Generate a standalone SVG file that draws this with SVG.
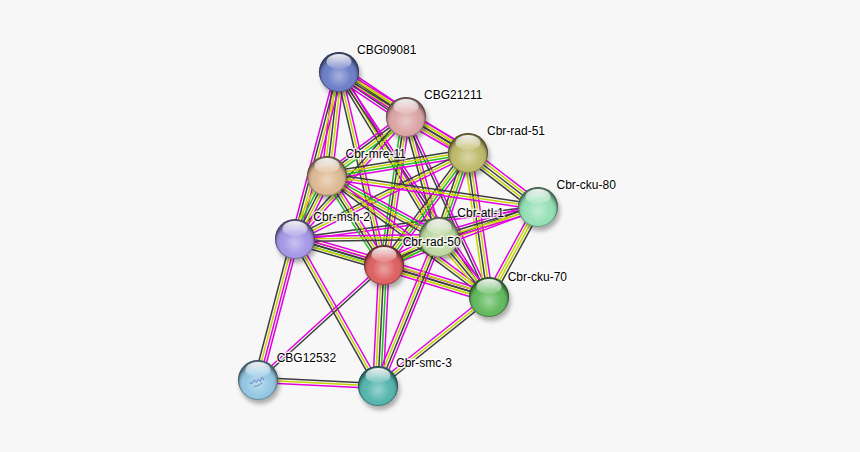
<svg xmlns="http://www.w3.org/2000/svg" xmlns:xlink="http://www.w3.org/1999/xlink" width="860" height="452" viewBox="0 0 860 452">
<style>
.e path{fill:none;stroke-width:1.5}
.m{stroke:#e000e0}
.y{stroke:#c4d400}
.k{stroke:#3d3d3d}
.g{stroke:#1fbf1f}
.lbl{font-family:"Liberation Sans",Arial,sans-serif;font-size:12px;fill:#000;stroke:#fff;stroke-width:3;stroke-opacity:.75;paint-order:stroke;stroke-linejoin:round}
.rim{fill:none;stroke:#000;stroke-opacity:.28;stroke-width:1}
</style>
<defs>
<filter id="blur" x="-50%" y="-50%" width="200%" height="200%"><feGaussianBlur stdDeviation="2"/></filter>
<radialGradient id="shade" cx="50%" cy="60%" r="52%">
<stop offset="0" stop-color="#fff" stop-opacity=".4"/>
<stop offset=".6" stop-color="#fff" stop-opacity="0"/>
<stop offset=".85" stop-color="#000" stop-opacity=".1"/>
<stop offset="1" stop-color="#000" stop-opacity=".45"/>
</radialGradient>
<linearGradient id="hl" x1="0" y1="0" x2="0" y2="1">
<stop offset="0" stop-color="#fff" stop-opacity=".95"/>
<stop offset="1" stop-color="#fff" stop-opacity=".12"/>
</linearGradient>
<circle id="shadow" cx="2" cy="4" r="20" fill="#000" fill-opacity=".3" filter="url(#blur)"/>
<g id="gloss">
<circle r="20" fill="url(#shade)"/>
<circle r="19.5" class="rim"/>
<ellipse cy="-10.5" rx="12.5" ry="7.5" fill="url(#hl)"/>
</g>
</defs>
<rect width="860" height="452" fill="#f7f7f7"/>
<g id="edges" class="e">
<g transform="matrix(.830 .558 -.558 .830 339 72)"><path class="m" d="M0-6.5h80.7"/><path class="y" d="M0-3.9h80.7"/><path class="k" d="M0-1.3h80.7"/><path class="y" d="M0 1.3h80.7"/><path class="k" d="M0 3.9h80.7"/><path class="m" d="M0 6.5h80.7"/></g>
<g transform="matrix(.847 .532 -.532 .847 339 72)"><path class="m" d="M0-3.9h152.3"/><path class="y" d="M0-1.3h152.3"/><path class="k" d="M0 1.3h152.3"/><path class="m" d="M0 3.9h152.3"/></g>
<g transform="matrix(-.115 .993 -.993 -.115 339 72)"><path class="m" d="M0-5.2h104.7"/><path class="y" d="M0-2.6h104.7"/><path class="k" d="M0 0h104.7"/><path class="y" d="M0 2.6h104.7"/><path class="m" d="M0 5.2h104.7"/></g>
<g transform="matrix(-.255 .967 -.967 -.255 339 72)"><path class="m" d="M0-3.9h172.7"/><path class="y" d="M0-1.3h172.7"/><path class="k" d="M0 1.3h172.7"/><path class="m" d="M0 3.9h172.7"/></g>
<g transform="matrix(.227 .974 -.974 .227 339 72)"><path class="m" d="M0-2.6h198.2"/><path class="y" d="M0 0h198.2"/><path class="k" d="M0 2.6h198.2"/></g>
<g transform="matrix(.518 .855 -.855 .518 339 72)"><path class="m" d="M0-2.6h192.9"/><path class="y" d="M0 0h192.9"/><path class="k" d="M0 2.6h192.9"/></g>
<g transform="matrix(.555 .832 -.832 .555 339 72)"><path class="m" d="M0-1.3h270.4"/><path class="k" d="M0 1.3h270.4"/></g>
<g transform="matrix(.865 .502 -.502 .865 406 117)"><path class="m" d="M0-5.2h71.7"/><path class="y" d="M0-2.6h71.7"/><path class="k" d="M0 0h71.7"/><path class="y" d="M0 2.6h71.7"/><path class="m" d="M0 5.2h71.7"/></g>
<g transform="matrix(-.801 .598 -.598 -.801 406 117)"><path class="g" d="M0-3.9h98.6"/><path class="y" d="M0-1.3h98.6"/><path class="k" d="M0 1.3h98.6"/><path class="m" d="M0 3.9h98.6"/></g>
<g transform="matrix(-.673 .740 -.740 -.673 406 117)"><path class="m" d="M0-2.6h164.9"/><path class="y" d="M0 0h164.9"/><path class="k" d="M0 2.6h164.9"/></g>
<g transform="matrix(-.147 .989 -.989 -.147 406 117)"><path class="m" d="M0-3.9h149.6"/><path class="y" d="M0-1.3h149.6"/><path class="k" d="M0 1.3h149.6"/><path class="g" d="M0 3.9h149.6"/></g>
<g transform="matrix(.265 .964 -.964 .265 406 117)"><path class="m" d="M0-2.6h124.5"/><path class="y" d="M0 0h124.5"/><path class="k" d="M0 2.6h124.5"/></g>
<g transform="matrix(.419 .908 -.908 .419 406 117)"><path class="m" d="M0-1.3h198.2"/><path class="k" d="M0 1.3h198.2"/></g>
<g transform="matrix(.792 .611 -.611 .792 468 153)"><path class="m" d="M0-5.2h88.4"/><path class="y" d="M0-2.6h88.4"/><path class="k" d="M0 0h88.4"/><path class="y" d="M0 2.6h88.4"/><path class="k" d="M0 5.2h88.4"/></g>
<g transform="matrix(-.987 .161 -.161 -.987 468 153)"><path class="m" d="M0-3.9h142.9"/><path class="g" d="M0-1.3h142.9"/><path class="y" d="M0 1.3h142.9"/><path class="k" d="M0 3.9h142.9"/></g>
<g transform="matrix(-.895 .445 -.445 -.895 468 153)"><path class="m" d="M0-2.6h193.2"/><path class="y" d="M0 0h193.2"/><path class="k" d="M0 2.6h193.2"/></g>
<g transform="matrix(-.6 .8 -.8 -.6 468 153)"><path class="m" d="M0-3.9h140"/><path class="g" d="M0-1.3h140"/><path class="y" d="M0 1.3h140"/><path class="k" d="M0 3.9h140"/></g>
<g transform="matrix(-.326 .945 -.945 -.326 468 153)"><path class="m" d="M0-3.9h88.9"/><path class="g" d="M0-1.3h88.9"/><path class="y" d="M0 1.3h88.9"/><path class="k" d="M0 3.9h88.9"/></g>
<g transform="matrix(.144 .990 -.990 .144 468 153)"><path class="m" d="M0-3.9h145.5"/><path class="y" d="M0-1.3h145.5"/><path class="k" d="M0 1.3h145.5"/><path class="y" d="M0 3.9h145.5"/></g>
<g transform="matrix(-.989 -.145 .145 -.989 538 207)"><path class="m" d="M0-2.6h213.3"/><path class="y" d="M0 0h213.3"/><path class="k" d="M0 2.6h213.3"/></g>
<g transform="matrix(-.991 .131 -.131 -.991 538 207)"><path class="m" d="M0-1.3h245.1"/><path class="k" d="M0 1.3h245.1"/></g>
<g transform="matrix(-.936 .352 -.352 -.936 538 207)"><path class="m" d="M0-2.6h164.6"/><path class="y" d="M0 0h164.6"/><path class="k" d="M0 2.6h164.6"/></g>
<g transform="matrix(-.957 .290 -.290 -.957 538 207)"><path class="m" d="M0-3.9h103.4"/><path class="y" d="M0-1.3h103.4"/><path class="k" d="M0 1.3h103.4"/><path class="m" d="M0 3.9h103.4"/></g>
<g transform="matrix(-.478 .878 -.878 -.478 538 207)"><path class="k" d="M0-3.9h102.5"/><path class="y" d="M0-1.3h102.5"/><path class="y" d="M0 1.3h102.5"/><path class="m" d="M0 3.9h102.5"/></g>
<g transform="matrix(-.453 .891 -.891 -.453 327 176)"><path class="m" d="M0-5.2h70.7"/><path class="y" d="M0-2.6h70.7"/><path class="k" d="M0 0h70.7"/><path class="g" d="M0 2.6h70.7"/><path class="y" d="M0 5.2h70.7"/></g>
<g transform="matrix(.539 .842 -.842 .539 327 176)"><path class="m" d="M0-3.9h105.7"/><path class="y" d="M0-1.3h105.7"/><path class="k" d="M0 1.3h105.7"/><path class="g" d="M0 3.9h105.7"/></g>
<g transform="matrix(.878 .478 -.478 .878 327 176)"><path class="m" d="M0-3.9h127.5"/><path class="g" d="M0-1.3h127.5"/><path class="y" d="M0 1.3h127.5"/><path class="k" d="M0 3.9h127.5"/></g>
<g transform="matrix(.801 .598 -.598 .801 327 176)"><path class="m" d="M0-2.6h202.2"/><path class="y" d="M0 0h202.2"/><path class="k" d="M0 2.6h202.2"/></g>
<g transform="matrix(.960 .280 -.280 .960 295 239)"><path class="m" d="M0-5.2h92.7"/><path class="y" d="M0-2.6h92.7"/><path class="k" d="M0 0h92.7"/><path class="g" d="M0 2.6h92.7"/><path class="k" d="M0 5.2h92.7"/></g>
<g transform="matrix(1 -.014 .014 1 295 239)"><path class="m" d="M0-2.6h144"/><path class="y" d="M0 0h144"/><path class="k" d="M0 2.6h144"/></g>
<g transform="matrix(.958 .286 -.286 .958 295 239)"><path class="m" d="M0-2.6h202.5"/><path class="k" d="M0 0h202.5"/><path class="y" d="M0 2.6h202.5"/></g>
<g transform="matrix(.891 -.454 .454 .891 384 265)"><path class="m" d="M0-3.9h61.7"/><path class="y" d="M0-1.3h61.7"/><path class="k" d="M0 1.3h61.7"/><path class="g" d="M0 3.9h61.7"/></g>
<g transform="matrix(.956 .291 -.291 .956 384 265)"><path class="m" d="M0-5.2h109.8"/><path class="y" d="M0-2.6h109.8"/><path class="k" d="M0 0h109.8"/><path class="y" d="M0 2.6h109.8"/><path class="m" d="M0 5.2h109.8"/></g>
<g transform="matrix(.640 .768 -.768 .640 439 237)"><path class="m" d="M0-3.9h78.1"/><path class="y" d="M0-1.3h78.1"/><path class="k" d="M0 1.3h78.1"/><path class="y" d="M0 3.9h78.1"/></g>
<g transform="matrix(-.254 .967 -.967 -.254 295 239)"><path class="m" d="M0-3.9h145.8"/><path class="m" d="M0-1.3h145.8"/><path class="y" d="M0 1.3h145.8"/><path class="k" d="M0 3.9h145.8"/></g>
<g transform="matrix(.492 .871 -.871 .492 295 239)"><path class="m" d="M0-2.6h168.8"/><path class="y" d="M0 0h168.8"/><path class="k" d="M0 2.6h168.8"/></g>
<g transform="matrix(-.739 .674 -.674 -.739 384 265)"><path class="k" d="M0-1.3h170.6"/><path class="m" d="M0 1.3h170.6"/></g>
<g transform="matrix(-.050 .999 -.999 -.050 384 265)"><path class="m" d="M0-5.2h121.1"/><path class="g" d="M0-2.6h121.1"/><path class="k" d="M0 0h121.1"/><path class="y" d="M0 2.6h121.1"/><path class="m" d="M0 5.2h121.1"/></g>
<g transform="matrix(.999 .050 -.050 .999 258 380)"><path class="k" d="M0-2.6h120.1"/><path class="y" d="M0 0h120.1"/><path class="m" d="M0 2.6h120.1"/></g>
<g transform="matrix(.780 -.625 .625 .780 378 386)"><path class="m" d="M0-2.6h142.3"/><path class="y" d="M0 0h142.3"/><path class="k" d="M0 2.6h142.3"/></g>
<g transform="matrix(.379 -.925 .925 .379 378 386)"><path class="m" d="M0-3.9h161"/><path class="y" d="M0-1.3h161"/><path class="k" d="M0 1.3h161"/><path class="m" d="M0 3.9h161"/></g>
</g>
<g id="n-CBG09081" transform="translate(339 72)"><use xlink:href="#shadow"/><circle r="20" fill="#6d7fc8"/><use xlink:href="#gloss"/><text class="lbl" x="18" y="-18">CBG09081</text></g>
<g id="n-CBG21211" transform="translate(406 117)"><use xlink:href="#shadow"/><circle r="20" fill="#dca5a5"/><use xlink:href="#gloss"/><text class="lbl" x="18" y="-18.5">CBG21211</text></g>
<g id="n-Cbr-rad-51" transform="translate(468 153)"><use xlink:href="#shadow"/><circle r="20" fill="#bfbb6c"/><use xlink:href="#gloss"/><text class="lbl" x="19" y="-18">Cbr-rad-51</text></g>
<g id="n-Cbr-cku-80" transform="translate(538 207)"><use xlink:href="#shadow"/><circle r="20" fill="#95e0b7"/><use xlink:href="#gloss"/><text class="lbl" x="18.5" y="-18.5">Cbr-cku-80</text></g>
<g id="n-Cbr-mre-11" transform="translate(327 176)"><use xlink:href="#shadow"/><circle r="20" fill="#ddb993"/><use xlink:href="#gloss"/><text class="lbl" x="18.5" y="-18.5">Cbr-mre-11</text></g>
<g id="n-Cbr-msh-2" transform="translate(295 239)"><use xlink:href="#shadow"/><circle r="20" fill="#a698e6"/><use xlink:href="#gloss"/><text class="lbl" x="18.3" y="-18">Cbr-msh-2</text></g>
<g id="n-Cbr-atl-1" transform="translate(439 237)"><use xlink:href="#shadow"/><circle r="20" fill="#bed9a2"/><use xlink:href="#gloss"/><text class="lbl" x="18.3" y="-20">Cbr-atl-1</text></g>
<g id="n-Cbr-cku-70" transform="translate(489 297)"><use xlink:href="#shadow"/><circle r="20" fill="#63ba5f"/><use xlink:href="#gloss"/><text class="lbl" x="18.7" y="-16.5">Cbr-cku-70</text></g>
<g id="n-CBG12532" transform="translate(258 380)"><use xlink:href="#shadow"/><circle r="20" fill="#94c7e3"/><use xlink:href="#gloss"/><path d="M-8 4c1-3 2 1 3-2s2-2 3 0 1-4 3-2 1 2 2-1 2-1 3 1M-4 7c2-2 3 0 5-2s2 0 3-2" fill="none" stroke="#5067c4" stroke-width=".8"/><text class="lbl" x="18.7" y="-18.3">CBG12532</text></g>
<g id="n-Cbr-smc-3" transform="translate(378 386)"><use xlink:href="#shadow"/><circle r="20" fill="#55b5ae"/><use xlink:href="#gloss"/><text class="lbl" x="18" y="-18.7">Cbr-smc-3</text></g>
<g id="n-Cbr-rad-50" transform="translate(384 265)"><use xlink:href="#shadow"/><circle r="20" fill="#de6262"/><use xlink:href="#gloss"/><text class="lbl" x="18.7" y="-19">Cbr-rad-50</text></g>
</svg>
